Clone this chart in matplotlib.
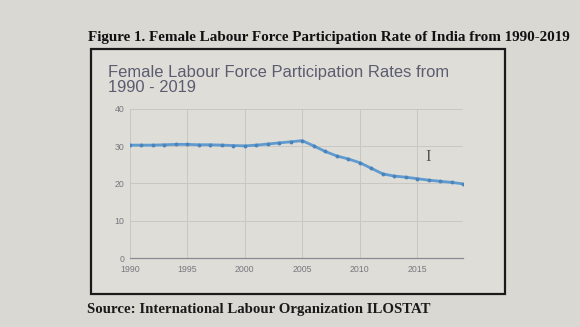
import matplotlib
matplotlib.use("Agg")
import matplotlib.pyplot as plt
from matplotlib.patches import Rectangle

years = list(range(1990, 2020))
rate = [30.3, 30.3, 30.3, 30.4, 30.5, 30.5, 30.4, 30.4, 30.3, 30.2,
        30.1, 30.3, 30.6, 30.9, 31.2, 31.5, 30.1, 28.6, 27.4, 26.6,
        25.6, 24.1, 22.6, 22.0, 21.7, 21.3, 20.9, 20.6, 20.3, 19.9]
x_ticks = [1990, 1995, 2000, 2005, 2010, 2015]
y_ticks = [0, 10, 20, 30, 40]

fig_title = "Figure 1. Female Labour Force Participation Rate of India from 1990-2019"
chart_title = "Female Labour Force Participation Rates from\n1990 - 2019"
source = "Source: International Labour Organization ILOSTAT"

W, H = 580, 327
fig = plt.figure(figsize=(W / 100, H / 100), dpi=100)
bg = "#dad8d2"
fig.patch.set_facecolor(bg)

def fx(px):
    return px / W

def fy(py):
    return 1 - py / H

# framed box (background axes)
bax = fig.add_axes([0, 0, 1, 1], zorder=-10)
bax.set_xlim(0, W)
bax.set_ylim(H, 0)
bax.axis("off")
bax.add_patch(Rectangle((91, 49), 505 - 91, 294 - 49, facecolor="#dfddd7",
                        edgecolor="#1a1a1a", linewidth=1.6))

fig.text(fx(88), fy(37), fig_title, family="Liberation Serif", weight="bold",
         fontsize=10.9, color="#111111", va="center", ha="left")
fig.text(fx(87), fy(309), source, family="Liberation Serif", weight="bold",
         fontsize=10.7, color="#1a1a1a", va="center", ha="left")
fig.text(fx(108), fy(80), chart_title, family="Liberation Sans", fontsize=11.9,
         color="#5c5c70", va="center", ha="left", linespacing=0.95)

ax = fig.add_axes([fx(130), fy(258), fx(463) - fx(130), fy(109) - fy(258)])
ax.set_facecolor("none")
ax.plot(years, rate, color="#5f9bd0", linewidth=2.0, marker="o", markersize=1.8,
        markerfacecolor="#4a84bb", markeredgecolor="#4a84bb", zorder=3)
ax.set_xlim(1990, 2019)
ax.set_ylim(0, 40)
ax.set_xticks(x_ticks)
ax.set_yticks(y_ticks)
ax.set_xticklabels([str(v) for v in x_ticks], fontsize=6.3, color="#77777f",
                   family="Liberation Sans")
ax.set_yticklabels([str(v) for v in y_ticks], fontsize=6.3, color="#77777f",
                   family="Liberation Sans")
ax.tick_params(axis="x", length=0, pad=5)
ax.tick_params(axis="y", length=0, pad=4)
ax.grid(True, color="#c8c7c3", linewidth=0.7)
for s in ["top", "right", "left"]:
    ax.spines[s].set_visible(False)
ax.spines["bottom"].set_color("#8a8a90")
ax.spines["bottom"].set_linewidth(0.9)

fig.text(fx(428), fy(157), "I", family="Liberation Serif", fontsize=12,
         color="#555555", va="center", ha="center")

fig.savefig("out.png", dpi=100, facecolor=fig.get_facecolor())
